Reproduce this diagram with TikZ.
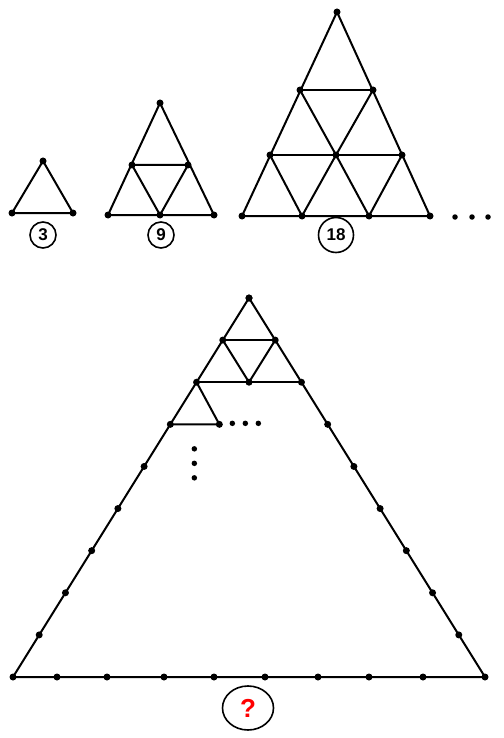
\documentclass[tikz,border=0pt]{standalone}
\usepackage{fontspec}
\setmainfont{Liberation Sans}
\usepackage{tikz}
\usetikzlibrary{calc,shapes.geometric}

\begin{document}
\begin{tikzpicture}[x=1pt,y=-1pt,line width=2pt,
  pt/.style={circle,fill=black,inner sep=0pt,minimum size=7pt},
  smalldot/.style={circle,fill=black,inner sep=0pt,minimum size=5.5pt},
  num/.style={circle,draw,line width=1.6pt,inner sep=0pt,minimum size=26pt,font=\fontsize{17}{19}\selectfont\bfseries}]
\useasboundingbox (0,0) rectangle (503,738);

% figure 1
\node[pt] (s1) at (43,161) {};
\node[pt] (s2) at (12,213) {};
\node[pt] (s3) at (73,213) {};
\draw (s1.center) -- (s2.center) -- (s3.center) -- cycle;
\node[num] (c3) at (43,235) {3};

% figure 2
\node[pt] (m1) at (160,103) {};
\node[pt] (m2) at (132,165) {};
\node[pt] (m3) at (188,165) {};
\node[pt] (m4) at (108,215) {};
\node[pt] (m5) at (160,215) {};
\node[pt] (m6) at (214,215) {};
\draw (m1.center) -- (m4.center) -- (m6.center) -- cycle;
\draw (m2.center) -- (m3.center) -- (m5.center) -- cycle;
\node[num] (c9) at (161,235) {9};

% figure 3
\node[pt] (L1) at (337,12) {};
\node[pt] (L2) at (300,90) {};
\node[pt] (L3) at (373,90) {};
\node[pt] (L4) at (270,155) {};
\node[pt] (L5) at (336,155) {};
\node[pt] (L6) at (402,155) {};
\node[pt] (L7) at (242,216) {};
\node[pt] (L8) at (302,216) {};
\node[pt] (L9) at (369,216) {};
\node[pt] (L10) at (430,216) {};
\draw (L1.center) -- (L7.center) -- (L10.center) -- cycle;
\draw (L2.center) -- (L3.center);
\draw (L4.center) -- (L6.center);
\draw (L2.center) -- (L5.center) -- (L9.center);
\draw (L3.center) -- (L5.center) -- (L8.center);
\draw (L4.center) -- (L8.center);
\draw (L6.center) -- (L9.center);
\node[num,minimum size=35pt] (c18) at (336,235) {18};
\foreach \x/\n in {455/1,472/2,488/3}
  \node[smalldot] (h\n) at (\x,217) {};

% big triangle
\coordinate (A) at (249,298);
\coordinate (B) at (13,677);
\coordinate (C) at (485,677);
\foreach \i in {0,...,9} {
  \node[pt] (l\i) at ($(A)!\i/9!(B)$) {};
  \node[pt] (r\i) at ($(A)!\i/9!(C)$) {};
}
\foreach \x [count=\j] in {57,107,164,214,265,318,369,423}
  \node[pt] (b\j) at (\x,677) {};
\node[pt] (mid) at ($(l2)!0.5!(r2)$) {};
\node[pt] (q) at ($(l3)+(49,0)$) {};
\draw (l0.center) -- (l9.center) -- (r9.center) -- cycle;
\draw (l1.center) -- (r1.center);
\draw (l2.center) -- (r2.center);
\draw (l1.center) -- (mid.center) -- (r1.center);
\draw (l2.center) -- (q.center) -- (l3.center);
\foreach \k in {1,2,3} {
  \node[smalldot] (dh\k) at ($(q)+(13*\k,-1)$) {};
  \node[smalldot] (dv\k) at ($(q)+(-25,10+14.5*\k)$) {};
}
\node[ellipse,draw,line width=1.6pt,minimum width=51pt,minimum height=44pt,
  text=red,font=\fontsize{26}{28}\selectfont\bfseries] (cq) at (248,708) {?};
\end{tikzpicture}
\end{document}
